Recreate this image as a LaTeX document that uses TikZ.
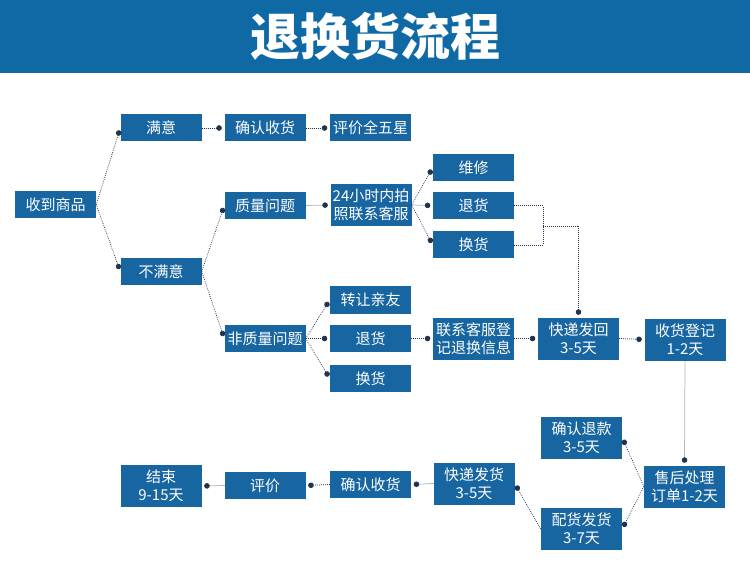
\documentclass[tikz,border=0pt]{standalone}
\usepackage{fontspec}
\usepackage{tikz}
\usetikzlibrary{arrows.meta,positioning,calc}
\newfontfamily\cjk{Noto Sans CJK SC}
\definecolor{boxblue}{HTML}{1765A1}
\definecolor{barblue}{HTML}{0E69A5}
\definecolor{linknavy}{HTML}{22334D}
\tikzset{
    every node/.style={font=\cjk\fontsize{15}{18}\selectfont},
    flowbox/.style={fill=boxblue,text=white,minimum width=81pt,minimum height=27pt,inner sep=1pt,align=center},
    twoline/.style={flowbox,minimum height=42pt},
    headbar/.style={fill=barblue,text=white,minimum width=750pt,minimum height=73pt,inner sep=0pt,font=\cjk\bfseries\fontsize{50}{56}\selectfont},
    bare/.style={draw=linknavy,line width=0.75pt,dash pattern=on 0.75pt off 1.25pt},
    link/.style={bare,-{Circle[length=5.5pt]},shorten >=2.5pt}
}
\begin{document}
\begin{tikzpicture}[x=1pt,y=-1pt]
\fill[white] (0,0) rectangle (750,580);
\useasboundingbox (0,0) rectangle (750,580);
\node[headbar] (head) at (375,36.5) {退换货流程};
% first columns
\node[flowbox] (recv) at (55.5,204.5) {收到商品};
\node[flowbox] (ok) at (161,128) {满意};
\node[flowbox] (notok) at (161,271.5) {不满意};
\node[flowbox] (okconfirm) at (265,128) {确认收货};
\node[flowbox] (rate5) at (370.5,128) {评价全五星};
\node[flowbox] (quality) at (265,205.5) {质量问题};
\node[flowbox] (nonquality) at (265,338.5) {非质量问题};
\node[twoline] (photo) at (371,205) {24小时内拍\\照联系客服};
\node[flowbox] (repair) at (473.5,167.5) {维修};
\node[flowbox] (qreturn) at (473.5,205.5) {退货};
\node[flowbox] (qexchange) at (473.5,245) {换货};
\node[flowbox] (gift) at (370.5,300) {转让亲友};
\node[flowbox] (nreturn) at (370.5,338.5) {退货};
\node[flowbox] (nexchange) at (370.5,378.5) {换货};
\node[twoline] (register) at (473.5,338.5) {联系客服登\\记退换信息};
\node[twoline] (shipback) at (578.5,338.5) {快递发回\\3-5天};
\node[twoline] (checkin) at (685,339.5) {收货登记\\1-2天};
% return path
\node[twoline] (aftersale) at (684.5,486.5) {售后处理\\订单1-2天};
\node[twoline] (refund) at (581.5,437.5) {确认退款\\3-5天};
\node[twoline] (reship) at (581.5,529) {配货发货\\3-7天};
\node[twoline] (express) at (474,483.5) {快递发货\\3-5天};
\node[flowbox] (confirm) at (370.5,484.5) {确认收货};
\node[flowbox] (review) at (265,485.5) {评价};
\node[twoline] (finish) at (161,486) {结束\\9-15天};
\coordinate (join) at (543,226);

\foreach \a/\b in {recv/ok,recv/notok,ok/okconfirm,okconfirm/rate5,notok/quality,notok/nonquality,
    quality/photo,photo/repair,photo/qreturn,photo/qexchange,nonquality/gift,nonquality/nreturn,
    nonquality/nexchange,nreturn/register,register/shipback,shipback/checkin}
    \draw[link] (\a.east) -- (\b.west);
\draw[bare] (qreturn.east) -| (join);
\draw[bare] (qexchange.east) -| (join);
\draw[link] (join) -| (shipback.north);
\draw[link] (checkin.south) -- (aftersale.north);
\foreach \a/\b in {aftersale/refund,aftersale/reship,reship/express,express/confirm,confirm/review,review/finish}
    \draw[link] (\a.west) -- (\b.east);
\end{tikzpicture}
\end{document}
